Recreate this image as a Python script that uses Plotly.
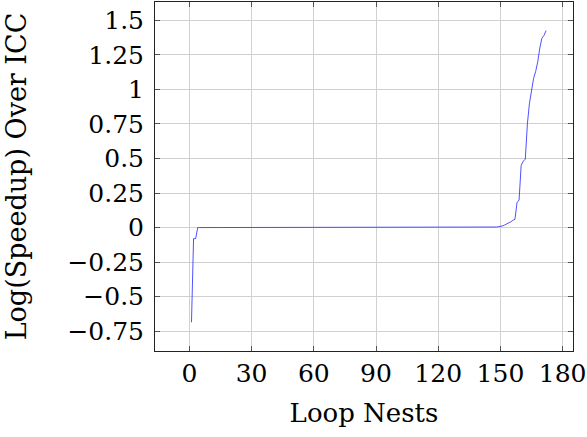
import plotly.graph_objects as go

# Data
head_vals = [-0.685, -0.08, -0.08, 0.0]          # loop nests 1..4
flat_count = 140                                 # loop nests 5..144 are ~0
flat_val = 0.0
tail_vals = [0.0, 0.001, 0.002, 0.004, 0.006, 0.008, 0.012, 0.018, 0.025,
             0.033, 0.042, 0.052, 0.06, 0.18, 0.2, 0.45, 0.48, 0.495, 0.75,
             0.9, 1.0, 1.08, 1.13, 1.2, 1.3, 1.37, 1.39, 1.425]  # 145..172

y_vals = head_vals + [flat_val] * flat_count + tail_vals
x_vals = list(range(1, len(y_vals) + 1))

x_ticks = [0, 30, 60, 90, 120, 150, 180]
y_ticks = [1.5, 1.25, 1, 0.75, 0.5, 0.25, 0, -0.25, -0.5, -0.75]
y_tick_text = ["1.5", "1.25", "1", "0.75", "0.5", "0.25", "0",
               "\u22120.25", "\u22120.5", "\u22120.75"]

FONT = "DejaVu Serif"
FS = 25

fig = go.Figure()
fig.add_trace(go.Scatter(x=x_vals, y=y_vals, mode="lines",
                         line=dict(color="rgb(60,60,255)", width=0.9),
                         showlegend=False))

axis_common = dict(showgrid=True, gridcolor="#d0d0d0", gridwidth=1,
                   showline=True, linecolor="#222", linewidth=1, mirror="allticks",
                   ticks="inside", ticklen=5, tickcolor="#555", zeroline=False,
                   tickfont=dict(family=FONT, size=FS, color="black"))

fig.update_layout(
    width=587, height=437,
    margin=dict(l=155, r=14, t=2, b=86),
    paper_bgcolor="white", plot_bgcolor="white",
    xaxis=dict(range=[-16.6, 185], tickvals=x_ticks,
               title=dict(text="Loop Nests", font=dict(family=FONT, size=26, color="black"),
                          standoff=16),
               **axis_common),
    yaxis=dict(range=[-0.893, 1.632], tickvals=y_ticks, ticktext=y_tick_text,
               ticklabelstandoff=5,
               title=dict(text="Log(Speedup) Over ICC",
                          font=dict(family=FONT, size=27, color="black"), standoff=32),
               **axis_common),
)

fig.write_html("out.html")
